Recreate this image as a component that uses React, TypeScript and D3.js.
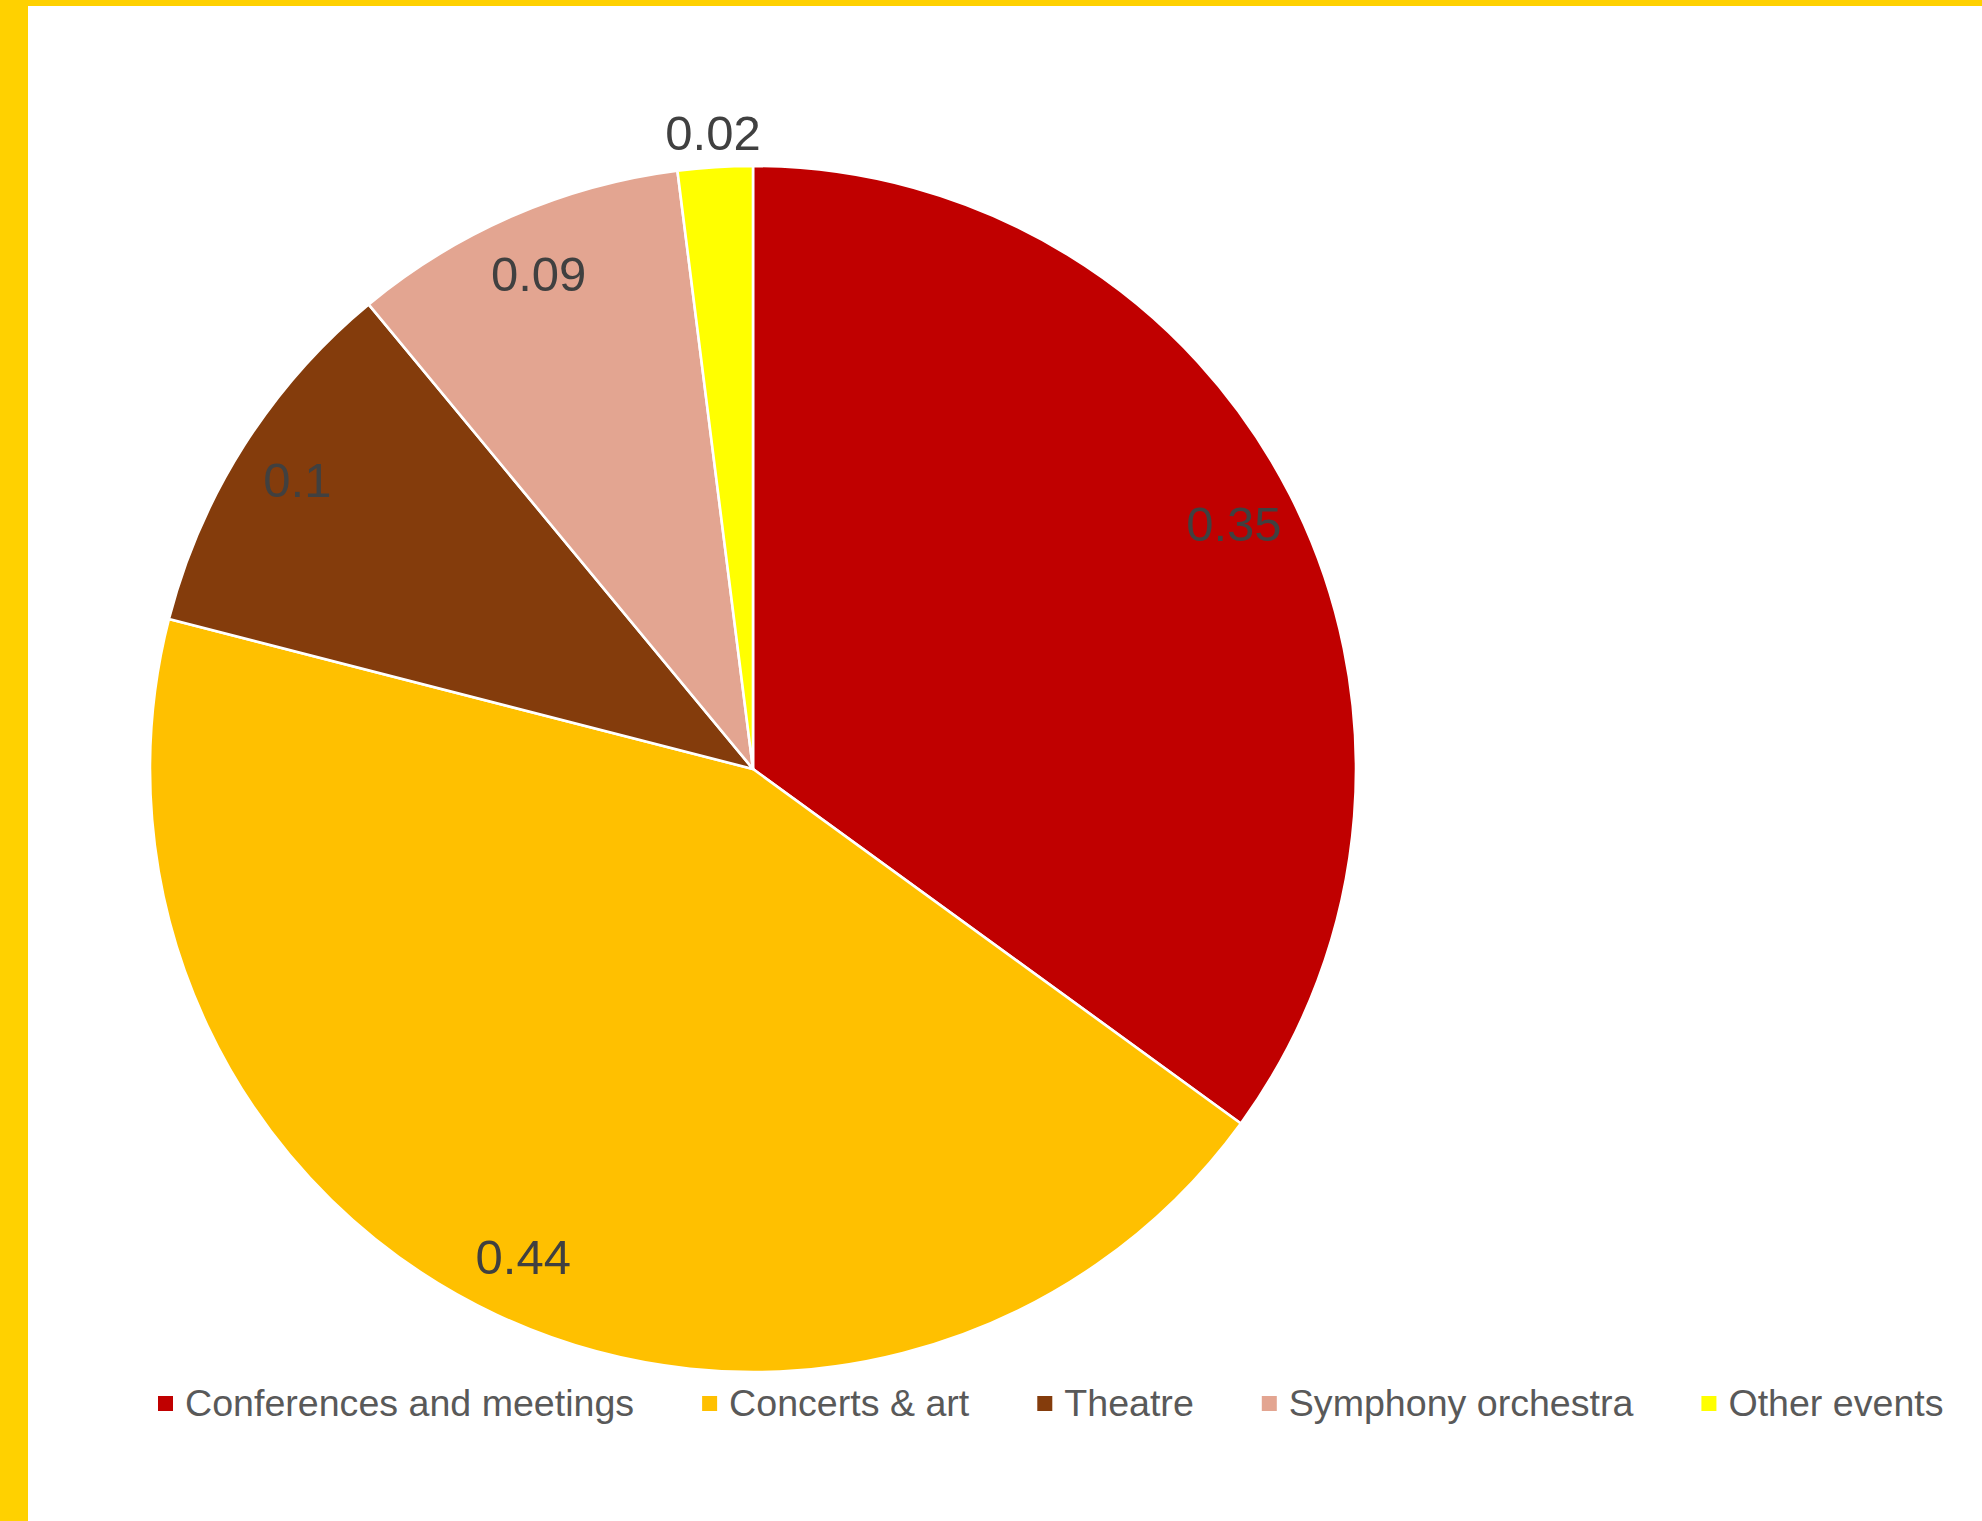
import React from "react";
import * as d3 from "d3";

const categories = ["Conferences and meetings", "Concerts & art", "Theatre", "Symphony orchestra", "Other events"];
const values = [0.35, 0.44, 0.1, 0.09, 0.02];
const labels = ["0.35", "0.44", "0.1", "0.09", "0.02"];
const colors = ["#C00000", "#FFC000", "#843C0C", "#E3A591", "#FFFF00"];

const W = 1982;
const H = 1521;
const FONT = "'Liberation Sans', Arial, sans-serif";

function measure(text: string, size: number): number {
  const c = document.createElement("canvas");
  const ctx = c.getContext("2d");
  if (!ctx) return text.length * size * 0.5;
  ctx.font = `${size}px ${FONT}`;
  return ctx.measureText(text).width;
}

export default function App() {
  const cx = 753;
  const cy = 769;
  const r = 603;

  const pie = d3.pie<number>().sort(null).value((d) => d)(values);
  const arc = d3.arc<d3.PieArcDatum<number>>().innerRadius(0).outerRadius(r);
  const inLabel = d3.arc<d3.PieArcDatum<number>>().innerRadius(r * 0.895).outerRadius(r * 0.895);
  const outLabel = d3.arc<d3.PieArcDatum<number>>().innerRadius(r + 34).outerRadius(r + 34);

  const legendSize = 37.6;
  const legendY = 1403;
  let lx = 158;
  const legendItems = categories.map((c, i) => {
    const item = { x: lx, text: c, color: colors[i] };
    lx += 27 + measure(c, legendSize) + 68;
    return item;
  });

  return (
    <svg width={W} height={H} style={{ position: "absolute", left: 0, top: 0, background: "#fff" }}>
      <rect x={0} y={0} width={W} height={H} fill="#ffffff" />
      <rect x={0} y={0} width={W} height={6} fill="#FFD100" />
      <rect x={0} y={0} width={28} height={H} fill="#FFD100" />
      <g transform={`translate(${cx},${cy})`}>
        {pie.map((p, i) => (
          <path key={i} d={arc(p) || ""} fill={colors[i]} stroke="#ffffff" strokeWidth={2.6} strokeLinejoin="round" />
        ))}
        {pie.map((p, i) => {
          const [x, y] = (values[i] < 0.05 ? outLabel : inLabel).centroid(p);
          return (
            <text key={i} x={x} y={y} textAnchor="middle" dominantBaseline="central" fontFamily={FONT} fontSize={49} fill="#404040">
              {labels[i]}
            </text>
          );
        })}
      </g>
      <g>
        {legendItems.map((it, i) => (
          <g key={i}>
            <rect x={it.x} y={legendY - 7} width={15} height={15} fill={it.color} />
            <text x={it.x + 27} y={legendY} dominantBaseline="central" fontFamily={FONT} fontSize={legendSize} fill="#595959">
              {it.text}
            </text>
          </g>
        ))}
      </g>
    </svg>
  );
}
